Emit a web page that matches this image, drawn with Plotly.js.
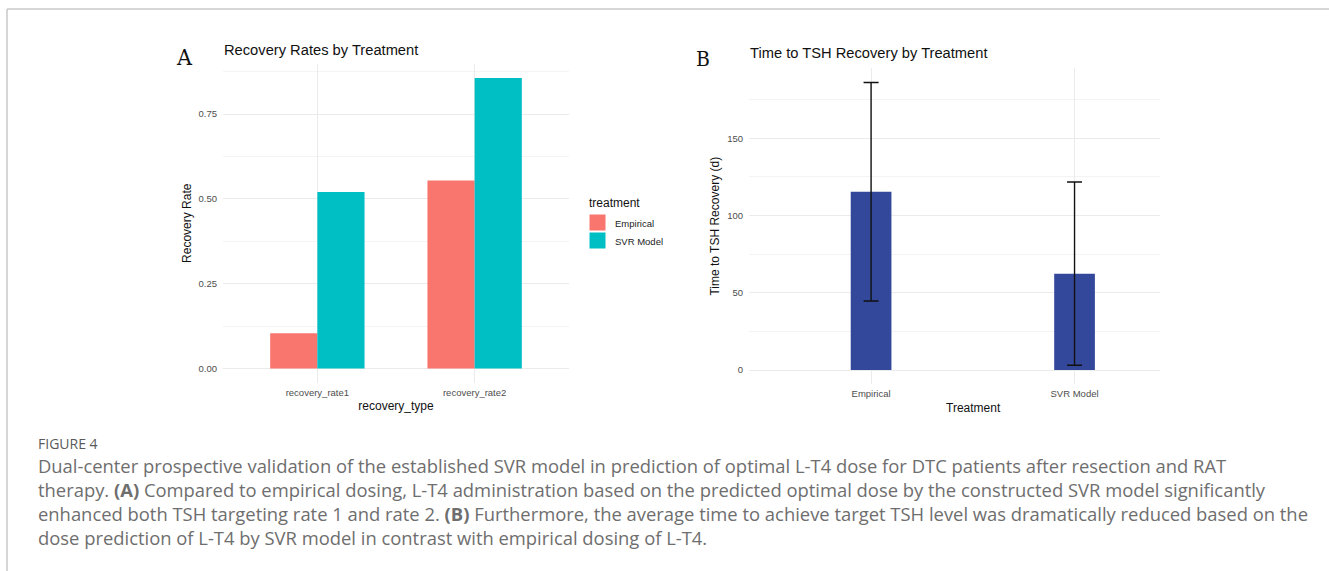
<!DOCTYPE html>
<html>
<head>
<meta charset="utf-8">
<script src="https://cdn.plot.ly/plotly-3.0.1.min.js"></script>
<style>
  html, body { margin: 0; padding: 0; background: #ffffff; }
  #chart { width: 1329px; height: 571px; }
</style>
</head>
<body>
<div id="chart"></div>
<script>
// ---- Data ----
const recoveryTypes = ["recovery_rate1", "recovery_rate2"];
const treatmentGroups = ["Empirical", "SVR Model"];
const empiricalRates = [0.104, 0.554];
const svrRates = [0.520, 0.856];

const treatments = ["Empirical", "SVR Model"];
const timeMeans = [115.4, 62.4];
const timeSd = [70.7, 59.3];

const yTicksA = [0, 0.25, 0.5, 0.75];
const yTickTextA = ["0.00", "0.25", "0.50", "0.75"];
const yTicksB = [0, 50, 100, 150];

const captionTitle = "FIGURE 4";
const captionLines = [
  "Dual-center prospective validation of the established SVR model in prediction of optimal L-T4 dose for DTC patients after resection and RAT",
  "therapy. <b>(A)</b> Compared to empirical dosing, L-T4 administration based on the predicted optimal dose by the constructed SVR model significantly",
  "enhanced both TSH targeting rate 1 and rate 2. <b>(B)</b> Furthermore, the average time to achieve target TSH level was dramatically reduced based on the",
  "dose prediction of L-T4 by SVR model in contrast with empirical dosing of L-T4."
];

// ---- Layout helpers (pixel -> paper) ----
const W = 1329, H = 571;
const px = x => x / W;
const py = y => 1 - y / H;

const sans = "Liberation Sans, Arial, sans-serif";
const serif = "DejaVu Serif Condensed, Liberation Serif, DejaVu Serif, serif";
const capFont = "Open Sans, Noto Sans, sans-serif";
const gridMajor = "#ebebeb";
const gridMinor = "#f4f4f4";
const tickColor = "#4d4d4d";
const groupColors = ["#F8766D", "#00BFC4"];

const traces = [
  {
    type: "bar", name: treatmentGroups[0], x: recoveryTypes, y: empiricalRates,
    marker: { color: groupColors[0] }, xaxis: "x", yaxis: "y", showlegend: false
  },
  {
    type: "bar", name: treatmentGroups[1], x: recoveryTypes, y: svrRates,
    marker: { color: groupColors[1] }, xaxis: "x", yaxis: "y", showlegend: false
  },
  {
    type: "bar", name: "Time to TSH Recovery", x: treatments, y: timeMeans,
    width: 0.2, showlegend: false,
    marker: { color: "#33489a" }, xaxis: "x2", yaxis: "y2",
    error_y: { type: "data", array: timeSd, visible: true, color: "#111111", thickness: 1.4, width: 7.5 }
  }
];

const commonAxis = {
  showline: false, zeroline: false, ticks: "", fixedrange: true,
  tickfont: { family: sans, size: 9.5, color: tickColor }
};

const captionAnnots = captionLines.map((t, i) => ({
  xref: "paper", yref: "paper", x: px(36), y: py(465 + 24 * i),
  xanchor: "left", yanchor: "middle", showarrow: false, align: "left",
  text: t, font: { family: capFont, size: 18.4, color: "#6e6e6e" }
}));

// custom ggplot-style legend (keys + labels)
const legendShapes = treatmentGroups.map((g, i) => ({
  type: "rect", xref: "paper", yref: "paper",
  x0: px(589), x1: px(606), y0: py(214 + 18 * i), y1: py(231 + 18 * i),
  fillcolor: groupColors[i], line: { color: "#ffffff", width: 1 }
}));
const legendAnnots = treatmentGroups.map((g, i) => ({
  xref: "paper", yref: "paper", x: px(613), y: py(223 + 18.5 * i),
  xanchor: "left", yanchor: "middle", showarrow: false, text: g,
  font: { family: sans, size: 9.5, color: "#222222" }
})).concat([{
  xref: "paper", yref: "paper", x: px(587), y: py(203),
  xanchor: "left", yanchor: "middle", showarrow: false, text: "treatment",
  font: { family: sans, size: 12, color: "#111111" }
}]);

const layout = {
  width: W, height: H,
  margin: { l: 0, r: 0, t: 0, b: 0 },
  paper_bgcolor: "#ffffff", plot_bgcolor: "#ffffff",
  barmode: "group", bargap: 0.4, bargroupgap: 0,
  showlegend: false,
  xaxis: Object.assign({}, commonAxis, {
    domain: [px(223), px(569)], range: [-0.6, 1.6],
    showgrid: true, gridcolor: gridMajor, gridwidth: 1,
    ticklabelstandoff: 2,
    title: { text: "recovery_type", font: { family: sans, size: 12, color: "#111111" }, standoff: 5 },
    anchor: "y"
  }),
  yaxis: Object.assign({}, commonAxis, {
    domain: [py(383), py(63.5)], range: [-0.0428, 0.899],
    tickvals: yTicksA, ticktext: yTickTextA,
    showgrid: true, gridcolor: gridMajor, gridwidth: 1,
    ticklabelstandoff: 5,
    minor: { dtick: 0.125, tick0: 0, showgrid: true, gridcolor: gridMinor, gridwidth: 1 },
    title: { text: "Recovery Rate", font: { family: sans, size: 12, color: "#111111" }, standoff: 4 },
    anchor: "x"
  }),
  xaxis2: Object.assign({}, commonAxis, {
    domain: [px(749), px(1160)], range: [-0.6, 1.42],
    showgrid: true, gridcolor: gridMajor, gridwidth: 1,
    ticklabelstandoff: 2,
    anchor: "y2"
  }),
  yaxis2: Object.assign({}, commonAxis, {
    domain: [py(384.4), py(68)], range: [-9.3, 195.5],
    tickvals: yTicksB,
    showgrid: true, gridcolor: gridMajor, gridwidth: 1,
    ticklabelstandoff: 5,
    minor: { dtick: 25, tick0: 0, showgrid: true, gridcolor: gridMinor, gridwidth: 1 },
    title: { text: "Time to TSH Recovery (d)", font: { family: sans, size: 12, color: "#111111" }, standoff: 4 },
    anchor: "x2"
  }),
  annotations: [
    { xref: "paper", yref: "paper", x: px(222), y: py(50), xanchor: "left", yanchor: "middle",
      showarrow: false, text: "Recovery Rates by Treatment",
      font: { family: sans, size: 14.7, color: "#111111" } },
    { xref: "paper", yref: "paper", x: px(748), y: py(53), xanchor: "left", yanchor: "middle",
      showarrow: false, text: "Time to TSH Recovery by Treatment",
      font: { family: sans, size: 14.7, color: "#111111" } },
    { xref: "paper", yref: "paper", x: px(973), y: py(408), xanchor: "center", yanchor: "middle",
      showarrow: false, text: "Treatment",
      font: { family: sans, size: 12, color: "#111111" } },
    { xref: "paper", yref: "paper", x: px(184), y: py(57), xanchor: "center", yanchor: "middle",
      showarrow: false, text: "A",
      font: { family: serif, size: 23, color: "#111111" } },
    { xref: "paper", yref: "paper", x: px(702.5), y: py(59), xanchor: "center", yanchor: "middle",
      showarrow: false, text: "B",
      font: { family: serif, size: 21, color: "#111111" } },
    { xref: "paper", yref: "paper", x: px(36), y: py(443), xanchor: "left", yanchor: "middle",
      showarrow: false, text: captionTitle,
      font: { family: capFont, size: 14, color: "#5a5a5a" } }
  ].concat(captionAnnots, legendAnnots),
  shapes: [
    { type: "line", xref: "paper", yref: "paper", x0: px(7), x1: 1, y0: py(9), y1: py(9),
      line: { color: "#c8c8c8", width: 1.5 } },
    { type: "line", xref: "paper", yref: "paper", x0: px(7), x1: px(7), y0: py(9), y1: 0,
      line: { color: "#c8c8c8", width: 1.5 } }
  ].concat(legendShapes)
};

Plotly.newPlot("chart", traces, layout, { displayModeBar: false });
</script>
</body>
</html>
